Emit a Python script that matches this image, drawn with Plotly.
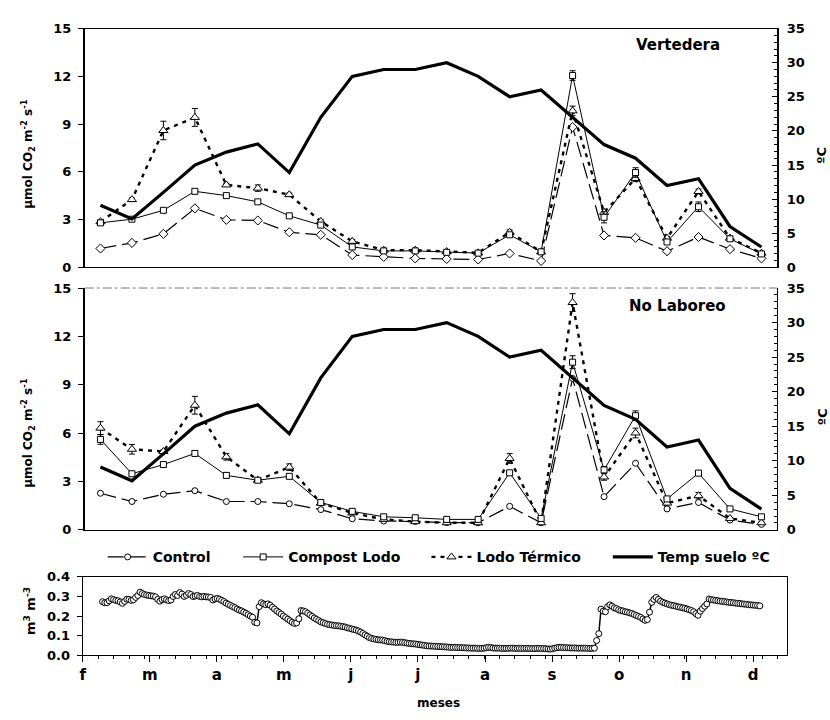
import plotly.graph_objects as go

# ---------------- data ----------------
muestreo = list(range(1, 23))  # 22 sampling dates

temp_suelo = [9.1, 7.1, 11.0, 15.0, 16.9, 18.1, 13.9, 22.0, 28.0, 29.0, 29.0,
              30.0, 28.0, 25.0, 26.0, 22.0, 18.0, 16.0, 12.0, 13.0, 6.0, 3.0]

# Vertedera
control_v = [1.19, 1.54, 2.11, 3.71, 2.99, 2.95, 2.21, 2.05, 0.78, 0.66, 0.57,
             0.53, 0.50, 0.88, 0.41, 8.81, 2.01, 1.86, 1.02, 1.91, 1.15, 0.57]
compost_v = [2.80, 3.03, 3.59, 4.78, 4.51, 4.12, 3.24, 2.66, 1.29, 1.04, 1.04,
             0.95, 0.90, 2.05, 0.98, 12.05, 3.15, 5.96, 1.60, 3.81, 1.80, 0.85]
termico_v = [2.87, 4.26, 8.60, 9.42, 5.18, 4.98, 4.57, 2.89, 1.64, 1.09, 1.09,
             1.00, 0.92, 2.21, 0.98, 9.83, 3.46, 5.59, 1.84, 4.77, 1.84, 0.90]
compost_v_err = [0.05, 0.05, 0.10, 0.12, 0.10, 0.10, 0.12, 0.10, 0.05, 0.05, 0.05,
                 0.05, 0.05, 0.10, 0.05, 0.30, 0.35, 0.30, 0.15, 0.30, 0.10, 0.05]
termico_v_err = [0.10, 0.10, 0.58, 0.56, 0.10, 0.20, 0.10, 0.10, 0.10, 0.05, 0.05,
                 0.05, 0.05, 0.15, 0.05, 0.30, 0.20, 0.20, 0.10, 0.15, 0.10, 0.05]

# No Laboreo
control_n = [2.27, 1.76, 2.21, 2.43, 1.76, 1.76, 1.62, 1.26, 0.69, 0.55, 0.52,
             0.45, 0.44, 1.46, 0.44, 9.39, 2.06, 4.13, 1.30, 1.70, 0.61, 0.34]
compost_n = [5.61, 3.48, 4.05, 4.74, 3.38, 3.08, 3.32, 1.70, 1.15, 0.81, 0.75,
             0.65, 0.65, 3.54, 0.71, 10.40, 3.72, 7.08, 1.92, 3.52, 1.30, 0.81]
termico_n = [6.31, 5.00, 4.86, 7.73, 4.53, 3.08, 3.89, 1.66, 1.05, 0.65, 0.51,
             0.44, 0.44, 4.43, 0.44, 14.10, 3.28, 6.01, 1.66, 2.12, 0.71, 0.44]
compost_n_err = [0.30, 0.10, 0.10, 0.10, 0.15, 0.10, 0.10, 0.10, 0.10, 0.05, 0.05,
                 0.05, 0.05, 0.10, 0.05, 0.40, 0.20, 0.30, 0.10, 0.15, 0.05, 0.10]
termico_n_err = [0.40, 0.30, 0.10, 0.55, 0.20, 0.10, 0.20, 0.10, 0.10, 0.05, 0.05,
                 0.05, 0.05, 0.30, 0.05, 0.55, 0.20, 0.30, 0.10, 0.20, 0.05, 0.05]

# soil moisture (m3 m-3), daily, day 9 .. 307 counted from 1 Feb
humedad_dia = list(range(9, 308))
humedad = [
    .273, .268, .268, .278, .288, .284, .280, .278, .272, .265,
    .275, .286, .285, .280, .283, .295, .305, .322, .315, .310,
    .307, .305, .303, .302, .298, .285, .276, .284, .288, .283,
    .279, .282, .300, .310, .305, .320, .312, .300, .306, .315,
    .310, .300, .302, .305, .300, .298, .300, .298, .297, .295,
    .282, .287, .290, .286, .280, .274, .266, .260, .254, .248,
    .243, .236, .230, .226, .220, .214, .207, .200, .194, .168,
    .165, .248, .268, .262, .258, .262, .255, .245, .236, .226,
    .218, .210, .200, .192, .184, .176, .168, .162, .165, .186,
    .228, .226, .222, .214, .206, .198, .190, .183, .177, .170,
    .166, .162, .158, .156, .154, .152, .151, .150, .148, .146,
    .144, .140, .137, .134, .131, .128, .124, .118, .111, .104,
    .097, .090, .086, .083, .081, .079, .078, .077, .074, .071,
    .069, .068, .067, .066, .066, .067, .066, .064, .062, .060,
    .059, .058, .057, .055, .053, .052, .050, .048, .047, .047,
    .046, .045, .045, .044, .043, .043, .042, .041, .040, .040,
    .040, .039, .039, .038, .038, .037, .037, .036, .036, .036,
    .035, .035, .035, .036, .038, .040, .039, .037, .036, .036,
    .036, .035, .035, .035, .035, .036, .036, .035, .035, .035,
    .035, .035, .035, .035, .034, .034, .034, .035, .035, .034,
    .034, .033, .032, .031, .033, .036, .038, .040, .040, .039,
    .038, .038, .037, .037, .037, .036, .036, .036, .036, .036,
    .035, .035, .035, .036, .075, .110, .235, .225, .222, .248,
    .257, .250, .242, .238, .232, .228, .226, .222, .220, .216,
    .213, .208, .203, .198, .193, .185, .178, .182, .220, .270,
    .285, .295, .285, .276, .270, .266, .262, .258, .255, .253,
    .250, .247, .245, .242, .240, .236, .232, .228, .222, .212,
    .204, .225, .238, .250, .262, .287, .284, .282, .280, .278,
    .276, .275, .274, .272, .270, .269, .268, .266, .265, .264,
    .262, .261, .260, .258, .257, .256, .255, .254, .252,
]

meses_lbl = ['f', 'm', 'a', 'm', 'j', 'j', 'a', 's', 'o', 'n', 'd']
dias_mes = 30.4
meses_pos = [i * dias_mes for i in range(len(meses_lbl))]

# ---------------- figure ----------------
W, H = 830, 720
def px_x(p):
    return p / W
def px_y(p):
    return 1 - p / H

FONT = "DejaVu Sans"
bold = lambda s: dict(family=FONT, size=s, color="black", weight="bold")

fig = go.Figure()

err = lambda arr: dict(type="data", array=arr, color="black", thickness=1, width=3)

ctrl_line = dict(color="black", width=1.2, dash="16px,6px")
comp_line = dict(color="black", width=1)
term_line = dict(color="black", width=2.4, dash="4px,5px")
temp_line = dict(color="black", width=3.2)
mk = lambda sym, s: dict(symbol=sym, size=s, color="white", line=dict(color="black", width=1))

# top panel
fig.add_trace(go.Scatter(x=muestreo, y=temp_suelo, xaxis="x", yaxis="y2", mode="lines",
                         line=temp_line, showlegend=False))
fig.add_trace(go.Scatter(x=muestreo, y=control_v, xaxis="x", yaxis="y", mode="lines+markers",
                         line=ctrl_line, marker=mk("diamond", 7), showlegend=False))
fig.add_trace(go.Scatter(x=muestreo, y=termico_v, xaxis="x", yaxis="y", mode="lines+markers",
                         line=term_line, marker=mk("triangle-up", 8), error_y=err(termico_v_err),
                         showlegend=False))
fig.add_trace(go.Scatter(x=muestreo, y=compost_v, xaxis="x", yaxis="y", mode="lines+markers",
                         line=comp_line, marker=mk("square", 6), error_y=err(compost_v_err),
                         showlegend=False))

# middle panel
fig.add_trace(go.Scatter(x=muestreo, y=temp_suelo, xaxis="x2", yaxis="y4", mode="lines",
                         line=temp_line, name="Temp suelo ºC", legend="legend4"))
fig.add_trace(go.Scatter(x=muestreo, y=control_n, xaxis="x2", yaxis="y3", mode="lines+markers",
                         line=ctrl_line, marker=mk("circle", 6), name="Control", legend="legend"))
fig.add_trace(go.Scatter(x=muestreo, y=termico_n, xaxis="x2", yaxis="y3", mode="lines+markers",
                         line=term_line, marker=mk("triangle-up", 8), error_y=err(termico_n_err),
                         name="Lodo Térmico", legend="legend3"))
fig.add_trace(go.Scatter(x=muestreo, y=compost_n, xaxis="x2", yaxis="y3", mode="lines+markers",
                         line=comp_line, marker=mk("square", 6), error_y=err(compost_n_err),
                         name="Compost Lodo", legend="legend2"))

# bottom panel
fig.add_trace(go.Scatter(x=humedad_dia, y=humedad, xaxis="x3", yaxis="y5", mode="lines+markers",
                         line=dict(color="black", width=1.5),
                         marker=dict(symbol="circle", size=6, color="white",
                                     line=dict(color="black", width=1)),
                         showlegend=False))

dom_x = [px_x(82), px_x(777)]
dom_top = [px_y(266), px_y(22)]
dom_mid = [px_y(534), px_y(287)]
dom_bot = [px_y(662), px_y(582)]
dom_xb = [px_x(80), px_x(787)]

cat_range = [0.5, 22.5]
axis_common = dict(showgrid=False, zeroline=False, linecolor="black")

left_y = dict(range=[0, 15], tickvals=[0, 3, 6, 9, 12, 15], ticks="outside", ticklen=5,
              tickcolor="black", showline=True, linewidth=1.5, tickfont=bold(13),
              ticklabelstandoff=4, **axis_common)
right_y = dict(range=[0, 35], tickvals=[0, 5, 10, 15, 20, 25, 30, 35], ticks="inside", ticklen=5,
               tickcolor="black", showline=True, linewidth=1, side="right", tickfont=bold(13),
               ticklabelstandoff=6,
               minor=dict(dtick=1, tick0=0, ticks="inside", ticklen=3, tickcolor="black"),
               **axis_common)

fig.update_layout(
    width=W, height=H, margin=dict(l=0, r=0, t=0, b=0),
    paper_bgcolor="white", plot_bgcolor="white",
    xaxis=dict(domain=dom_x, anchor="y", range=cat_range, showticklabels=False, ticks="",
               showline=True, mirror=True, linewidth=1, **axis_common),
    yaxis=dict(domain=dom_top, anchor="x", mirror=True, **left_y),
    yaxis2=dict(overlaying="y", anchor="x", **right_y),
    xaxis2=dict(domain=dom_x, anchor="y3", range=cat_range, showticklabels=False, ticks="",
                showline=True, linewidth=1, **axis_common),
    yaxis3=dict(domain=dom_mid, anchor="x2", **left_y),
    yaxis4=dict(overlaying="y3", anchor="x2", **right_y),
    xaxis3=dict(domain=dom_xb, anchor="y5", range=[0, 319.4], tickvals=meses_pos,
                ticktext=meses_lbl, ticks="outside", ticklen=6, tickcolor="black",
                showline=True, mirror=True, linewidth=1, tickfont=bold(15),
                minor=dict(dtick=7, tick0=0, ticks="outside", ticklen=3, tickcolor="black"),
                **axis_common),
    yaxis5=dict(domain=dom_bot, anchor="x3", range=[0, 0.4],
                tickvals=[0, 0.1, 0.2, 0.3, 0.4], tickformat=".1f", ticks="outside", ticklen=5,
                tickcolor="black", showline=True, mirror=True, linewidth=1, tickfont=bold(13),
                ticklabelstandoff=4, **axis_common),
)

leg_common = dict(orientation="h", yanchor="middle", y=px_y(562), xanchor="left",
                  bgcolor="rgba(0,0,0,0)", font=bold(14), itemwidth=40)
fig.update_layout(
    legend=dict(x=px_x(100), **leg_common),
    legend2=dict(x=px_x(236), **leg_common),
    legend3=dict(x=px_x(425), **leg_common),
    legend4=dict(x=px_x(607), **leg_common),
)

# top border of middle panel (dash-dot)
fig.add_shape(type="line", xref="paper", yref="paper", x0=dom_x[0], x1=dom_x[1],
              y0=dom_mid[1], y1=dom_mid[1], line=dict(color="#777777", width=1, dash="dashdot"))

ann = []
ann.append(dict(text="Vertedera", x=px_x(677), y=px_y(39), font=bold(15)))
ann.append(dict(text="No Laboreo", x=px_x(677), y=px_y(305), font=bold(15)))
ylab = "µmol CO<sub>2</sub> m<sup>-2</sup> s<sup>-1</sup>"
ann.append(dict(text=ylab, x=px_x(25), y=px_y(150), textangle=-90, font=bold(12)))
ann.append(dict(text=ylab, x=px_x(25), y=px_y(435), textangle=-90, font=bold(12)))
ann.append(dict(text="ºC", x=px_x(822), y=px_y(152), textangle=-90, font=bold(13)))
ann.append(dict(text="ºC", x=px_x(822), y=px_y(419), textangle=-90, font=bold(13)))
ann.append(dict(text="m<sup>3</sup> m<sup>-3</sup>", x=px_x(27), y=px_y(617), textangle=-90,
                font=bold(13)))
ann.append(dict(text="meses", x=px_x(437), y=px_y(711), font=bold(12)))
for a in ann:
    fig.add_annotation(xref="paper", yref="paper", showarrow=False, xanchor="center",
                       yanchor="middle", **a)

fig.write_html("out.html")
